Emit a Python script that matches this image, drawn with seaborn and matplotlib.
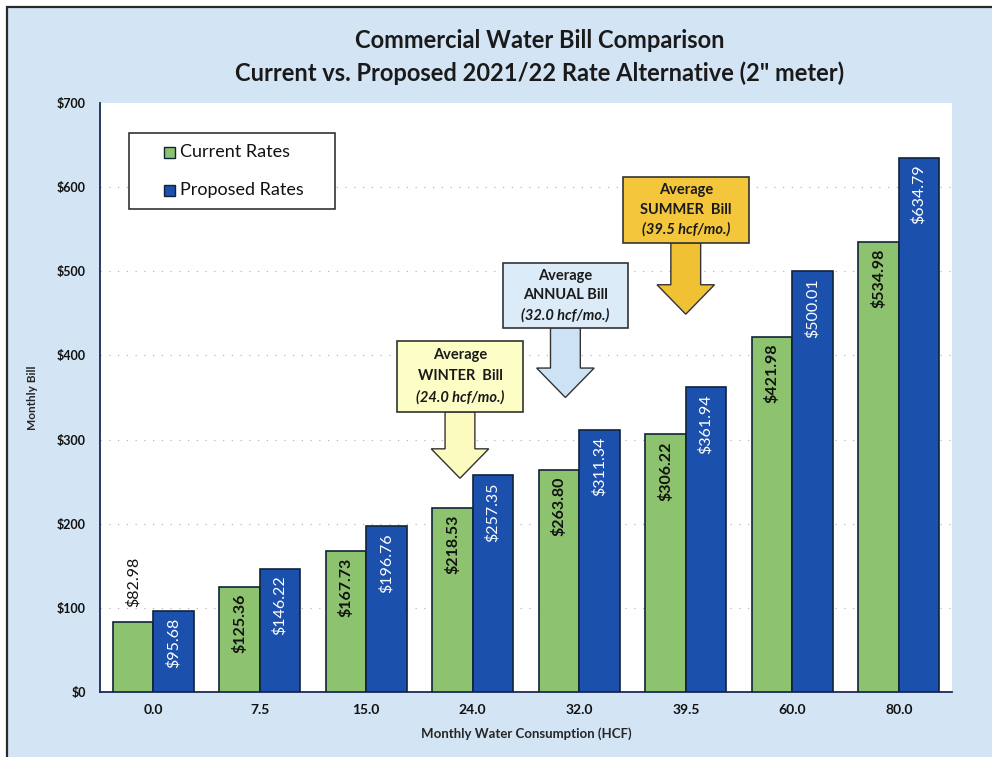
import matplotlib
matplotlib.use("Agg")
import matplotlib.pyplot as plt
from matplotlib.patches import Rectangle, Polygon
import seaborn as sns
import pandas as pd

# ---- data -------------------------------------------------------------
consumption = ["0.0", "7.5", "15.0", "24.0", "32.0", "39.5", "60.0", "80.0"]
current_rates = [82.98, 125.36, 167.73, 218.53, 263.80, 306.22, 421.98, 534.98]
proposed_rates = [95.68, 146.22, 196.76, 257.35, 311.34, 361.94, 500.01, 634.79]
series_names = ["Current Rates", "Proposed Rates"]
y_ticks = [0, 100, 200, 300, 400, 500, 600, 700]

# callouts: text lines, consumption category, box top/bottom ($), arrow tip ($)
callouts = [
    (["Average", "WINTER  Bill", "(24.0 hcf/mo.)"], "24.0", 417, 333, 254, "#fdfdc6", "#fbfbbf"),
    (["Average", "ANNUAL Bill", "(32.0 hcf/mo.)"], "32.0", 510, 433, 350, "#dcebf8", "#cde3f5"),
    (["Average", "SUMMER  Bill", "(39.5 hcf/mo.)"], "39.5", 612, 534, 449, "#f3c63c", "#f0c133"),
]

df = pd.DataFrame({
    "hcf": consumption * 2,
    "bill": current_rates + proposed_rates,
    "rate": [series_names[0]] * len(consumption) + [series_names[1]] * len(consumption),
})

GREEN = "#8dc36e"
BLUE = "#1c50ad"
EDGE = "#10233a"
PANEL = "#d3e4f4"
FONT = ["Lato", "DejaVu Sans"]

sns.set_theme(style="white")
plt.rcParams["font.family"] = FONT

fig = plt.figure(figsize=(9.92, 7.57), dpi=100)
fig.patch.set_facecolor("white")
# light blue chart panel with a dark frame along left and top
fig.patches.append(Rectangle((7 / 992, -0.05), 1.1, 1 - 7 / 757 + 0.05,
                             transform=fig.transFigure, facecolor=PANEL,
                             edgecolor="#2a2a2a", linewidth=1.6, zorder=-10))

ax = fig.add_axes([100 / 992, 1 - 692 / 757, 852 / 992, 589 / 757])
ax.set_facecolor("white")

sns.barplot(data=df, x="hcf", y="bill", hue="rate", order=consumption,
            hue_order=series_names, palette=[GREEN, BLUE], width=0.76,
            edgecolor=EDGE, linewidth=1.2, saturation=1, ax=ax,
            legend=False, zorder=3)

ax.set_ylim(0, 700)
ax.set_xlim(-0.5, len(consumption) - 0.5)
ax.set_yticks(y_ticks)
ax.set_yticklabels([f"${v}" for v in y_ticks], fontsize=9, fontweight="bold")
ax.set_xticks(range(len(consumption)))
ax.set_xticklabels(consumption, fontsize=10, fontweight="bold")
ax.set_xticks([i + 0.5 for i in range(-1, len(consumption))], minor=True)
ax.tick_params(axis="x", which="major", length=0, pad=9, colors="#111111")
ax.tick_params(axis="x", which="minor", length=5, width=1.2, direction="out", color="#1a2a55")
ax.tick_params(axis="y", length=4, width=1, direction="out", pad=6,
               color="#1a2a55", labelcolor="#111111")

for side in ["top", "right"]:
    ax.spines[side].set_visible(False)
for side in ["left", "bottom"]:
    ax.spines[side].set_color("#1a2a55")
    ax.spines[side].set_linewidth(1.3)

# faint dotted gridlines
for v in y_ticks[1:-1]:
    ax.axhline(v, color="#888888", linestyle=(0, (1, 6)), linewidth=0.9, alpha=0.6, zorder=1)

ax.set_xlabel("Monthly Water Consumption (HCF)", fontsize=9.5, fontweight="bold", labelpad=8)
ax.set_ylabel("Monthly Bill", fontsize=8.5, fontweight="bold", labelpad=14)

# value labels on bars
for container, color, weight in zip(ax.containers, ["#111111", "white"], ["bold", "normal"]):
    for bar in container:
        h = bar.get_height()
        xc = bar.get_x() + bar.get_width() / 2
        text = f"${h:.2f}"
        if h < 90:
            ax.text(xc, h + 18, text, rotation=90, ha="center", va="bottom",
                    fontsize=11.5, color="#111111", zorder=5)
        else:
            ax.text(xc, h - 8, text, rotation=90, ha="center", va="top",
                    fontsize=11.5, color=color, fontweight=weight, zorder=5)

# callout boxes with down arrows
box_w = 1.18
shaft_w = 0.28
head_w = 0.54
head_len = 35
x_shift = {"24.0": -0.12, "32.0": -0.13, "39.5": 0.0}
for lines, cat, top, bottom, tip, fill, arrow_fill in callouts:
    xc = consumption.index(cat) + x_shift[cat]
    head_start = tip + head_len
    arrow = Polygon([
        (xc - shaft_w / 2, bottom), (xc + shaft_w / 2, bottom),
        (xc + shaft_w / 2, head_start), (xc + head_w / 2, head_start),
        (xc, tip), (xc - head_w / 2, head_start), (xc - shaft_w / 2, head_start),
    ], closed=True, facecolor=arrow_fill, edgecolor="#333333", linewidth=1.0, zorder=6)
    ax.add_patch(arrow)
    ax.add_patch(Rectangle((xc - box_w / 2, bottom), box_w, top - bottom,
                           facecolor=fill, edgecolor="#333333", linewidth=1.2, zorder=7))
    step = (top - bottom) / 3.3
    ymid = (top + bottom) / 2
    for k, line in enumerate(lines):
        ax.text(xc, ymid + (1 - k) * step, line, ha="center", va="center",
                fontsize=10.5, fontweight="bold",
                fontstyle="italic" if k == 2 else "normal",
                color="#1a1a1a", zorder=8)

# legend box drawn in axes fraction coordinates
lx0, lx1 = 29 / 852, 235 / 852
ly0, ly1 = (692 - 209) / 589, (692 - 133) / 589
ax.add_patch(Rectangle((lx0, ly0), lx1 - lx0, ly1 - ly0, transform=ax.transAxes,
                       facecolor="white", edgecolor="#222222", linewidth=1.1, zorder=10))
sq_w, sq_h = 11 / 852, 11 / 589
for name, col, yc_px in zip(series_names, [GREEN, BLUE], [152, 190]):
    yc = (692 - yc_px) / 589
    ax.add_patch(Rectangle((64 / 852, yc - sq_h / 2), sq_w, sq_h, transform=ax.transAxes,
                           facecolor=col, edgecolor=EDGE, linewidth=1.0, zorder=11))
    ax.text(80 / 852, yc, name, transform=ax.transAxes, ha="left", va="center",
            fontsize=13, color="#111111", zorder=11)

# two-line title
fig.text(540 / 992, 1 - 40 / 757, "Commercial Water Bill Comparison",
         ha="center", va="center", fontsize=17, fontweight="bold", color="#1a1a1a")
fig.text(540 / 992, 1 - 73 / 757, "Current vs. Proposed 2021/22 Rate Alternative (2\" meter)",
         ha="center", va="center", fontsize=17, fontweight="bold", color="#1a1a1a")

fig.savefig("out.png", dpi=100, facecolor=fig.get_facecolor())
